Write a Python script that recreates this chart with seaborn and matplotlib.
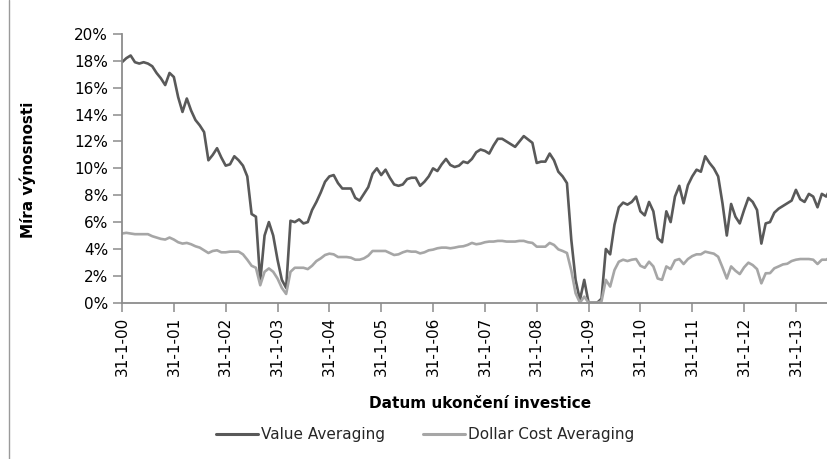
import numpy as np
import pandas as pd
import matplotlib
matplotlib.use("Agg")
import matplotlib.pyplot as plt
from matplotlib.lines import Line2D
from matplotlib.ticker import PercentFormatter, MultipleLocator
import seaborn as sns

# Monthly rate of return (%) by investment end date, Jan 2000 - Sep 2013
value_averaging = [
    17.9, 18.2, 18.4, 17.9, 17.8, 17.9, 17.8, 17.6, 17.1, 16.7, 16.2, 17.1,
    16.8, 15.3, 14.2, 15.2, 14.3, 13.6, 13.2, 12.7, 10.6, 11.0, 11.5, 10.8,
    10.2, 10.3, 10.9, 10.6, 10.2, 9.4, 6.6, 6.4, 1.6, 5.0, 6.0, 5.0,
    3.2, 1.7, 1.1, 6.1, 6.0, 6.2, 5.9, 6.0, 6.9, 7.5, 8.2, 9.0,
    9.4, 9.5, 8.9, 8.5, 8.5, 8.5, 7.8, 7.6, 8.1, 8.6, 9.6, 10.0,
    9.5, 9.9, 9.3, 8.8, 8.7, 8.8, 9.2, 9.3, 9.3, 8.7, 9.0, 9.4,
    10.0, 9.8, 10.3, 10.7, 10.25, 10.1, 10.2, 10.5, 10.4, 10.7, 11.2, 11.4,
    11.3, 11.1, 11.7, 12.2, 12.2, 12.0, 11.8, 11.6, 12.0, 12.4, 12.15, 11.9,
    10.4, 10.5, 10.5, 11.1, 10.6, 9.75, 9.4, 8.9, 4.7, 1.7, 0.2, 1.7,
    0.0, 0.0, 0.0, 0.3, 4.0, 3.6, 5.8, 7.1, 7.45, 7.3, 7.5, 7.9,
    6.8, 6.5, 7.5, 6.8, 4.8, 4.5, 6.8, 6.0, 7.9, 8.7, 7.4, 8.75,
    9.4, 9.9, 9.75, 10.9, 10.4, 10.0, 9.4, 7.4, 5.0, 7.35, 6.4, 5.9,
    6.9, 7.8, 7.5, 6.9, 4.4, 5.9, 6.0, 6.7, 7.0, 7.2, 7.4, 7.6,
    8.4, 7.7, 7.5, 8.1, 7.9, 7.1, 8.1, 7.9, 8.5,
]
dollar_cost_averaging = [
    5.15, 5.2, 5.15, 5.1, 5.1, 5.1, 5.1, 4.95, 4.85, 4.75, 4.7, 4.85,
    4.7, 4.5, 4.4, 4.45, 4.35, 4.2, 4.1, 3.9, 3.7, 3.85, 3.9, 3.75,
    3.75, 3.8, 3.8, 3.8, 3.6, 3.2, 2.75, 2.6, 1.3, 2.3, 2.55, 2.3,
    1.8, 1.1, 0.65, 2.3, 2.6, 2.6, 2.6, 2.5, 2.75, 3.1, 3.3, 3.55,
    3.65, 3.6, 3.4, 3.4, 3.4, 3.35, 3.2, 3.2, 3.3, 3.5, 3.85, 3.85,
    3.85, 3.85, 3.7, 3.55, 3.6, 3.75, 3.85, 3.8, 3.8, 3.67, 3.75, 3.9,
    3.95, 4.05, 4.1, 4.1, 4.05, 4.1, 4.17, 4.2, 4.3, 4.45, 4.35, 4.4,
    4.5, 4.55, 4.55, 4.6, 4.6, 4.55, 4.55, 4.55, 4.6, 4.6, 4.5, 4.45,
    4.17, 4.17, 4.17, 4.45, 4.3, 3.97, 3.85, 3.7, 2.4, 0.7, 0.0, 0.45,
    0.0, 0.0, 0.0, 0.1, 1.7, 1.2, 2.43, 3.05, 3.2, 3.1, 3.2, 3.25,
    2.75, 2.6, 3.05, 2.7, 1.8, 1.7, 2.7, 2.5, 3.15, 3.25, 2.88, 3.25,
    3.47, 3.6, 3.6, 3.8, 3.72, 3.65, 3.42, 2.63, 1.8, 2.7, 2.38, 2.13,
    2.63, 2.98, 2.8, 2.5, 1.44, 2.19, 2.2, 2.56, 2.7, 2.85, 2.9, 3.1,
    3.2, 3.25, 3.25, 3.25, 3.2, 2.88, 3.2, 3.2, 3.4,
]
series_names = ["Value Averaging", "Dollar Cost Averaging"]
series_colors = ["#595959", "#A6A6A6"]
year_tick_labels = ["31-1-00", "31-1-01", "31-1-02", "31-1-03", "31-1-04",
                    "31-1-05", "31-1-06", "31-1-07", "31-1-08", "31-1-09",
                    "31-1-10", "31-1-11", "31-1-12", "31-1-13"]
y_label = "Míra výnosnosti"
x_label = "Datum ukončení investice"

months = np.arange(len(value_averaging))
df = pd.DataFrame({
    "month": np.concatenate([months, months]),
    "value": np.concatenate([value_averaging, dollar_cost_averaging]),
    "series": [series_names[0]] * len(months) + [series_names[1]] * len(months),
})

sns.set_theme(style="white")
plt.rcParams["font.family"] = ["DejaVu Sans"]

W, H = 828, 459
fig = plt.figure(figsize=(W / 100, H / 100), dpi=100)
# plot area: left edge at x=122px, 0% at y=302.7px, 20% at y=34px, 4.32 px per month
ax_left, ax_bottom = 122 / W, (H - 302.7) / H
ax_height = (302.7 - 34) / H
ax_width = 165 * 4.32 / W
ax = fig.add_axes([ax_left, ax_bottom, ax_width, ax_height])

sns.lineplot(data=df, x="month", y="value", hue="series", palette=series_colors,
             hue_order=series_names, linewidth=1.9, ax=ax, legend=False)

ax.set_xlim(0, 165)
ax.set_ylim(0, 20)
ax.yaxis.set_major_locator(MultipleLocator(2))
ax.yaxis.set_major_formatter(PercentFormatter(decimals=0))
ax.set_xticks(np.arange(0, 12 * len(year_tick_labels), 12))
ax.set_xticklabels(year_tick_labels, rotation=90)

spine_color = "#8C8C8C"
for side in ["top", "right"]:
    ax.spines[side].set_visible(False)
for side in ["left", "bottom"]:
    ax.spines[side].set_color(spine_color)
    ax.spines[side].set_linewidth(1.3)
ax.tick_params(axis="both", which="major", direction="out", length=6.5,
               width=1.1, color=spine_color, labelsize=11, labelcolor="#000000",
               pad=3.5, left=True, bottom=True)

ax.set_xlabel("")
ax.set_ylabel("")
fig.text(28 / W, 1 - 170 / H, y_label, rotation=90, ha="center", va="center",
         fontsize=11, fontweight="bold", color="#000000")
fig.text(480 / W, 1 - 404 / H, x_label, ha="center", va="center",
         fontsize=11, fontweight="bold", color="#000000")

handles = [Line2D([0], [0], color=c, linewidth=2.2) for c in series_colors]
fig.legend(handles, series_names, loc="center", bbox_to_anchor=(425 / W, 1 - 435 / H),
           ncol=2, frameon=False, fontsize=11, handlelength=2.75,
           handletextpad=0.2, columnspacing=2.5)

# outer chart border on the left
fig.add_artist(Line2D([9 / W, 9 / W], [0, 1], color="#9A9A9A", linewidth=1.0,
                      transform=fig.transFigure))

fig.savefig("out.png", dpi=100)
